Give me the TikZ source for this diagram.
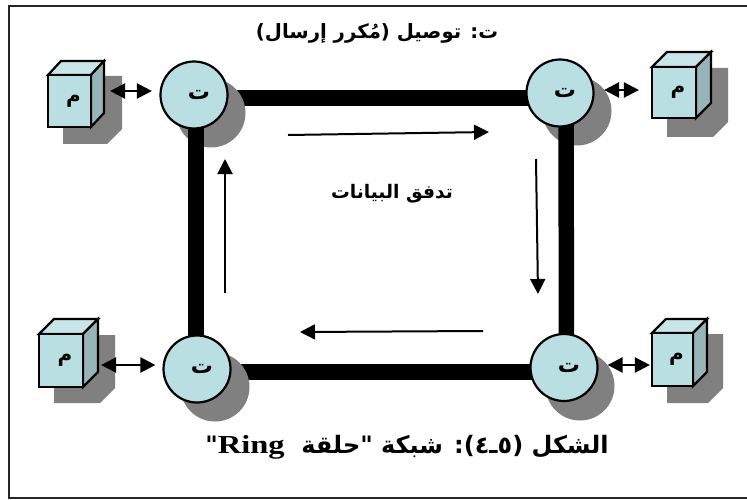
\documentclass[tikz,border=0pt]{standalone}
\usepackage{fontspec}
\usetikzlibrary{arrows.meta}
\TeXXeTstate=1
\setmainfont{Liberation Serif}
\newfontfamily\arfont[Script=Arabic]{DejaVu Sans}
\definecolor{facecol}{HTML}{B9DFE3}
\definecolor{topcol}{HTML}{C8E6EA}
\definecolor{sidecol}{HTML}{97B5B8}
\definecolor{shadcol}{HTML}{808080}
\pgfdeclarelayer{hbars}\pgfdeclarelayer{shadows}\pgfdeclarelayer{vbars}
\pgfsetlayers{hbars,shadows,vbars,main}
\tikzset{
  x=1pt,y=-1pt,
  repeater/.style={circle,draw=black,line width=2.2pt,fill=facecol,minimum size=67pt,inner sep=0pt,font=\arfont\bfseries\fontsize{22}{22}\selectfont},
  face/.style={rectangle,draw=black,line width=2.2pt,fill=facecol,inner sep=0pt,font=\arfont\bfseries\fontsize{20}{20}\selectfont},
  edgeline/.style={draw=black,line width=2.2pt,line join=miter},
  ring/.style={draw=black,line width=15.5pt},
  link/.style={draw=black,line width=2.4pt,{Triangle[length=15pt,width=15pt]}-{Triangle[length=15pt,width=15pt]}},
  flow/.style={draw=black,line width=2pt,-{Triangle[length=15pt,width=15pt]}},
  caption/.style={inner sep=0pt,text=black}
}
\newcommand{\tlabel}{\hspace{10pt}\raisebox{-4pt}{\beginR ت\endR}}
% \cubeat{name}{left}{top}{right}{bottom}{back right}{back top}{shadow right}{shadow bottom}
\newcommand{\cubeat}[9]{%
  \begin{pgfonlayer}{shadows}
    \fill[shadcol] (#2+15,#3+1) -- (#8,#3+1) -- (#8,#9-15) -- (#8-15,#9) -- (#2+15,#9) -- cycle;
  \end{pgfonlayer}
  \path[fill=topcol,edgeline] (#2,#3) -- (#2+#6-#4,#7) -- (#6,#7) -- (#4,#3) -- cycle;
  \path[fill=sidecol,edgeline] (#4,#3) -- (#6,#7) -- (#6,#7+#5-#3) -- (#4,#5) -- cycle;
  \node[face,minimum width=#4-#2,minimum height=#5-#3] (#1) at ({(#2+#4)/2},{(#3+#5)/2}) {\hspace{8pt}\raisebox{-3pt}{\beginR م\endR}};
}
\begin{document}
\begin{tikzpicture}
\useasboundingbox (0,0) rectangle (747,500);
\draw[black!85,line width=1.6pt] (750,6) -- (9,6) -- (9,498) -- (750,498);

% repeaters
\node[repeater] (tl) at (194,95) {\tlabel};
\node[repeater] (tr) at (560,93) {\tlabel};
\node[repeater] (bl) at (197,369) {\tlabel};
\node[repeater] (br) at (564,367.5) {\tlabel};

\begin{pgfonlayer}{shadows}
  \fill[shadcol] (211,113) circle[radius=34.5];
  \fill[shadcol] (577,111) circle[radius=34.5];
  \fill[shadcol] (215,387) circle[radius=34.5];
  \fill[shadcol] (580,386) circle[radius=34.5];
\end{pgfonlayer}

% ring
\begin{pgfonlayer}{hbars}
  \draw[ring] ([yshift=-3pt]tl.center) -- ([yshift=-5pt]tr.center);
  \draw[ring] ([yshift=-3pt]bl.center) -- ([yshift=-4.5pt]br.center);
\end{pgfonlayer}
\begin{pgfonlayer}{vbars}
  \draw[ring] ([xshift=2pt]tl.center) -- ([xshift=-1pt]bl.center);
  \draw[ring] ([xshift=6pt]tr.center) -- ([xshift=2.5pt]br.center);
\end{pgfonlayer}

% machines
\cubeat{m1}{48}{75}{91}{127}{104}{61}{122}{144}
\cubeat{m2}{652}{67}{696}{118}{711}{52}{728}{137}
\cubeat{m3}{39}{334}{83}{387}{98}{319}{115}{403}
\cubeat{m4}{652}{333}{693}{386}{707}{319}{723}{403}

% links
\draw[link] ([xshift=18pt,yshift=10pt]m1.east) -- ([xshift=-7.5pt,yshift=4pt]tl.west);
\draw[link] ([xshift=9.5pt,yshift=3pt]tr.east) -- ([xshift=-12pt,yshift=2.5pt]m2.west);
\draw[link] ([xshift=17pt,yshift=-4.5pt]m3.east) -- ([xshift=-7pt,yshift=4pt]bl.west);
\draw[link] ([xshift=9pt,yshift=2.5pt]br.east) -- ([xshift=-1pt,yshift=-5.5pt]m4.west);

% data flow
\coordinate (f1a) at (288,135); \coordinate (f1b) at (489,132);
\coordinate (f2a) at (536,159); \coordinate (f2b) at (538,294);
\coordinate (f3a) at (483,331); \coordinate (f3b) at (300,332);
\coordinate (f4a) at (225,293); \coordinate (f4b) at (225,159);
\draw[flow] (f1a) -- (f1b);
\draw[flow] (f2a) -- (f2b);
\draw[flow] (f3a) -- (f3b);
\draw[flow] (f4a) -- (f4b);

% texts
\node[caption,font=\arfont\bfseries\fontsize{19.7}{22}\selectfont] (title) at (377,33) {\beginR ت: توصيل (مُكرر إرسال)\endR};
\node[caption,font=\arfont\bfseries\fontsize{18.7}{22}\selectfont] (flowlabel) at (392,194) {\beginR تدفق البيانات\endR};
\node[caption,font=\arfont\bfseries\fontsize{24}{27}\selectfont] (figcap) at (407,447) {\beginR الشكل (٥\kern0ptـ\kern0pt٤): شبكة "حلقة \ \beginL{\rmfamily\bfseries\fontsize{26}{26}\selectfont\scalebox{1.25}[1]{Ring}}\endL"\endR};
\end{tikzpicture}
\end{document}
